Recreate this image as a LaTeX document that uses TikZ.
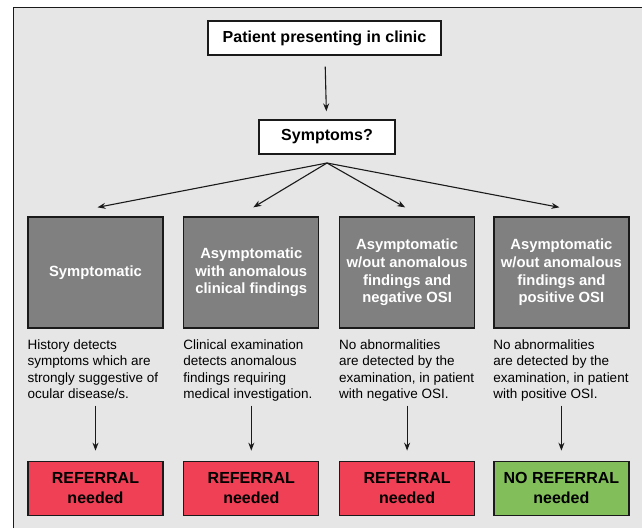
\documentclass[tikz,border=0pt]{standalone}
\usepackage{fontspec}
\setmainfont{Liberation Sans}
\usetikzlibrary{arrows.meta, positioning, calc}
\definecolor{panelbg}{HTML}{E6E6E6}
\definecolor{casegray}{HTML}{808080}
\definecolor{referred}{HTML}{EF4056}
\definecolor{notreferred}{HTML}{82BE5A}
\definecolor{inkline}{HTML}{1A1A1A}
\tikzset{
  qbox/.style={draw=inkline, fill=white, line width=1.3pt, minimum height=34pt,
    font=\fontsize{16}{19}\selectfont\bfseries},
  cbox/.style={draw=inkline, fill=casegray, line width=1.3pt, align=center,
    minimum width=135pt, minimum height=111pt, text=white, font=\fontsize{14.8}{17.6}\selectfont\bfseries},
  obox/.style={draw=inkline, line width=1.3pt, align=center,
    minimum width=135pt, minimum height=54pt, font=\fontsize{16}{19.7}\selectfont\bfseries},
  note/.style={anchor=north west, inner sep=0pt, align=left, font=\fontsize{13.5}{16.2}\selectfont},
  flow/.style={-{Stealth[length=8pt, width=6pt]}, draw=inkline, line width=1.1pt},
  drop/.style={flow, shorten <=77pt, shorten >=10pt}
}
\begin{document}
\begin{tikzpicture}[x=1pt, y=-1pt, node distance=19.5pt]
\useasboundingbox (0,0) rectangle (642,528);
\fill[white] (0,0) rectangle (642,528);
\fill[panelbg] (13,7) rectangle (642,528);
\draw[inkline, line width=1pt] (13,528) -- (13,7) -- (642,7);
% question boxes
\node[qbox, minimum width=233pt] (patient) at (324.5,38) {Patient presenting in clinic};
\node[qbox, minimum width=136pt] (sym) at (327,137) {Symptoms?};
\coordinate (fan) at (327,163);
% the four cases
\node[cbox] (symp) at (95.5,272.5) {Symptomatic};
\node[cbox, right=of symp] (anom) {Asymptomatic\\with anomalous\\clinical findings};
\node[cbox, right=of anom] (negosi) {Asymptomatic\\w/out anomalous\\findings and\\negative OSI};
\node[cbox, right=18pt of negosi] (pososi) {Asymptomatic\\w/out anomalous\\findings and\\positive OSI};
\node[note] (sympn) at ($(symp.south west)+(0,11)$) {History detects\\symptoms which are\\strongly suggestive of\\ocular disease/s.};
\node[note] (anomn) at ($(anom.south west)+(0,11)$) {Clinical examination\\detects anomalous\\findings requiring\\medical investigation.};
\node[note] (negosin) at ($(negosi.south west)+(0,11)$) {No abnormalities\\are detected by the\\examination, in patient\\with negative OSI.};
\node[note] (pososin) at ($(pososi.south west)+(0,11)$) {No abnormalities\\are detected by the\\examination, in patient\\with positive OSI.};
% outcomes
\node[obox, fill=referred, below=132pt of symp] (ref1) {REFERRAL\\needed};
\node[obox, fill=referred, below=132pt of anom] (ref2) {REFERRAL\\needed};
\node[obox, fill=referred, below=132pt of negosi] (ref3) {REFERRAL\\needed};
\node[obox, fill=notreferred, below=132pt of pososi] (noref) {NO REFERRAL\\needed};
\draw[flow, shorten <=11pt, shorten >=8pt] (patient) -- (sym);
\draw[flow] (fan) -- ($(symp.north)+(2,-9)$); \draw[flow] (fan) -- ($(anom.north)+(2,-9)$);
\draw[flow] (fan) -- ($(negosi.north)+(-2,-9)$); \draw[flow] (fan) -- ($(pososi.north)+(-2,-9)$);
\draw[drop] (symp) -- (ref1); \draw[drop] (anom) -- (ref2);
\draw[drop] (negosi) -- (ref3); \draw[drop] (pososi) -- (noref);
\end{tikzpicture}
\end{document}
